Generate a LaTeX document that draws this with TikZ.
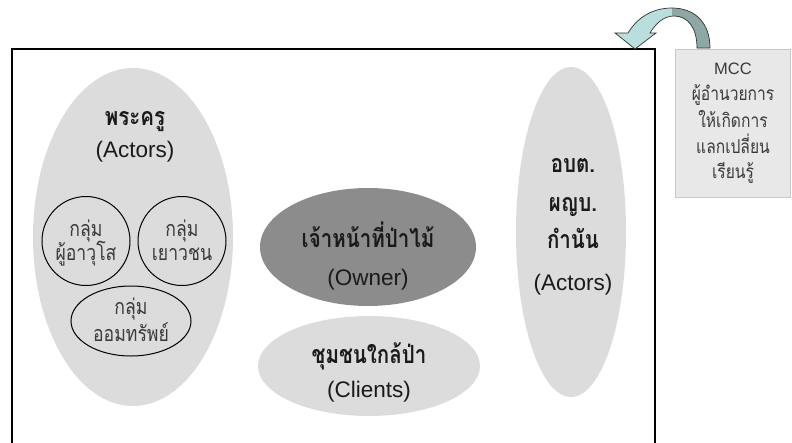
\documentclass[tikz,border=0pt]{standalone}
\usepackage{fontspec}
\setmainfont{Liberation Sans}
\newfontfamily\thai[Script=Thai, FakeStretch=0.82]{Loma}
\usetikzlibrary{shapes.geometric}
\definecolor{lgray}{HTML}{DCDCDC}
\definecolor{dgray}{HTML}{8C8C8C}
\definecolor{boxgray}{HTML}{E8E8E8}
\definecolor{boxedge}{HTML}{C8C8C8}
\definecolor{arrlight}{HTML}{B8DEDE}
\definecolor{arrdark}{HTML}{8EA8A8}
\definecolor{txt}{HTML}{1A1A1A}
\definecolor{txtg}{HTML}{3A3A3A}
\tikzset{
  blob/.style={ellipse, fill=lgray, draw=none, inner sep=0pt},
  grp/.style={ellipse, draw=black, line width=1pt, fill=lgray, inner sep=0pt},
  lat/.style={anchor=base, font=\fontsize{22.5}{22.5}\selectfont, text=txt, inner sep=0pt},
  thb/.style={anchor=base, font=\thai\bfseries\fontsize{25}{25}\selectfont, text=txt, inner sep=0pt},
  thr/.style={anchor=base, font=\thai\fontsize{21.5}{21.5}\selectfont, text=txtg, inner sep=0pt},
  ths/.style={anchor=base, font=\thai\fontsize{19}{19}\selectfont, text=txtg, inner sep=0pt},
  lats/.style={anchor=base, font=\fontsize{16.5}{16.5}\selectfont, text=txtg, inner sep=0pt},
}
\begin{document}
\begin{tikzpicture}[x=1pt,y=-1pt]
\useasboundingbox (0,0) rectangle (792,442);
\clip (0,0) rectangle (792,442);
% outer frame
\coordinate (fbl) at (12,450);
\coordinate (ftl) at (12,49);
\coordinate (ftr) at (655,49);
\coordinate (fbr) at (655,450);
\draw[line width=1.6pt] (fbl) -- (ftl) -- (ftr) -- (fbr);
% big ellipses
\node[blob, minimum width=200, minimum height=338] (left) at (133,237) {};
\node[blob, minimum width=110, minimum height=330] (right) at (571,232) {};
\node[blob, minimum width=222, minimum height=100] (clients) at (369,366) {};
\node[ellipse, fill=dgray, draw=none, inner sep=0pt, minimum width=216, minimum height=118] (owner) at (368,247) {};
% groups
\node[grp, minimum width=88, minimum height=89] (g1) at (86,241) {};
\node[grp, minimum width=88, minimum height=89] (g2) at (182,241) {};
\node[grp, minimum width=120, minimum height=70] (g3) at (131,321) {};
% texts left
\node[thb] (pk) at (135,125) {พระครู};
\node[lat] (pka) at (135,157) {(Actors)};
\node[thr] (g1a) at (86,236) {กลุ่ม};
\node[thr] (g1b) at (86,260) {ผู้อาวุโส};
\node[thr] (g2a) at (182,236) {กลุ่ม};
\node[thr] (g2b) at (182,260) {เยาวชน};
\node[thr] (g3a) at (131,314) {กลุ่ม};
\node[thr] (g3b) at (131,341) {ออมทรัพย์};
% owner
\node[thb] (ow) at (368,247) {เจ้าหน้าที่ป่าไม้};
\node[lat] (owa) at (368,285) {(Owner)};
% clients
\node[thb] (cl) at (369,363) {ชุมชนใกล้ป่า};
\node[lat] (cla) at (369,397) {(Clients)};
% right
\node[thb] (r1) at (573,172) {อบต.};
\node[thb] (r2) at (573,211) {ผญบ.};
\node[thb] (r3) at (573,248) {กำนัน};
\node[lat] (r4) at (573,290) {(Actors)};
% MCC box
\node[rectangle, fill=boxgray, draw=boxedge, line width=0.8pt, minimum width=115, minimum height=148, inner sep=0pt] (mcc) at (733,123) {};
\node[lats] (m1) at (733,74) {MCC};
\node[ths] (m2) at (733,100) {ผู้อำนวยการ};
\node[ths] (m3) at (733,127) {ให้เกิดการ};
\node[ths] (m4) at (733,153) {แลกเปลี่ยน};
\node[ths] (m5) at (733,178) {เรียนรู้};
% curved arrow
\coordinate (ao) at (710,48);
\coordinate (ai) at (697,48);
\coordinate (tip) at (635,49);
\def\arrowshape{(ao) .. controls (710,22) and (694,8) .. (672,8)
   .. controls (652,8) and (637,18) .. (628,33)
   -- (615,33) -- (tip) -- (656,33) -- (650,33)
   .. controls (656,23) and (664,16) .. (674,16)
   .. controls (688,16) and (697,28) .. (ai) -- cycle}
\fill[arrlight] \arrowshape;
\begin{scope}
  \clip (672,0) rectangle (720,60);
  \fill[arrdark] \arrowshape;
\end{scope}
\draw[line width=0.7pt, black!80] \arrowshape;
\end{tikzpicture}
\end{document}
